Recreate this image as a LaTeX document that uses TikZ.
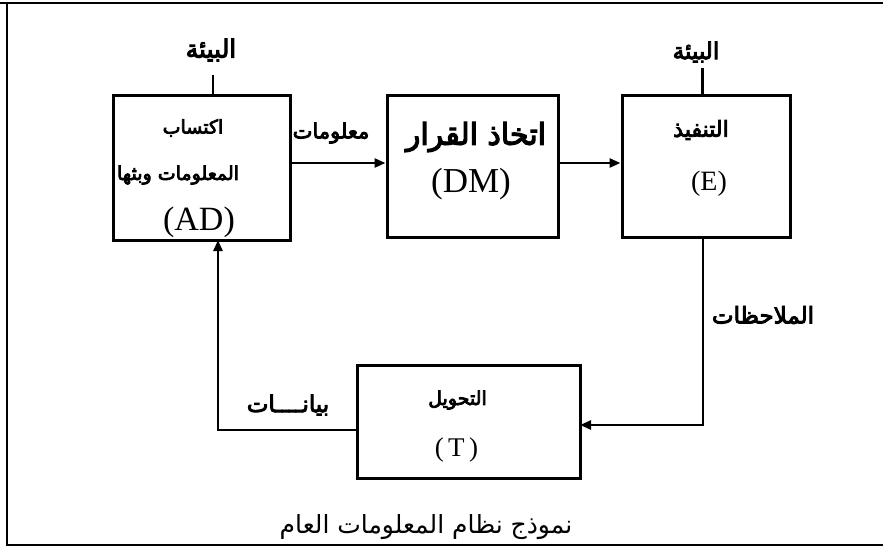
\documentclass[tikz,border=0pt]{standalone}
\usepackage{fontspec}
\setmainfont{Liberation Serif}
\newfontfamily\arabicfont[Script=Arabic]{DejaVu Sans}
\newfontfamily\arabicthick[Script=Arabic,FakeBold=4]{DejaVu Sans}
\TeXXeTstate=1
\usetikzlibrary{arrows.meta}
\newcommand{\arsz}[1]{\arabicthick\fontsize{#1}{#1}\selectfont}
\begin{document}
\begin{tikzpicture}[x=1pt,y=-1pt,
  box/.style={draw,line width=3pt,inner sep=0pt},
  txt/.style={inner sep=0pt},
  conn/.style={line width=2.5pt},
  arr/.style={conn,-{Triangle[length=11pt,width=9pt]}}]
\useasboundingbox (0,0) rectangle (883,554);
% frame
\draw[line width=2.5pt] (883,3) -- (0,3);
\draw[line width=2.5pt] (7,3) -- (7,545) -- (883,545);
% boxes
\node[box,minimum width=177pt,minimum height=145pt] (ad) at (201.5,167.5) {};
\node[box,minimum width=171pt,minimum height=142pt] (dm) at (472.5,166) {};
\node[box,minimum width=168pt,minimum height=142pt] (e) at (706,166) {};
\node[box,minimum width=223pt,minimum height=113pt] (t) at (468.5,421.5) {};
% box texts
\node[txt,font=\arsz{19}] (ad1) at (193,128) {\beginR اكتساب\endR};
\node[txt,font=\arsz{19}] (ad2) at (178,175) {\beginR المعلومات وبثها\endR};
\node[txt,font=\fontsize{34}{36}\selectfont] (ad3) at (199,222) {(AD)};
\node[txt,font=\arsz{30}] (dm1) at (476,137) {\beginR اتخاذ القرار\endR};
\node[txt,font=\fontsize{35}{38}\selectfont] (dm2) at (471,184) {(DM)};
\node[txt,font=\arsz{22}] (e1) at (701,130) {\beginR التنفيذ\endR};
\node[txt,font=\fontsize{28}{30}\selectfont] (e2) at (709,184) {(E)};
\node[txt,font=\arsz{19}] (t1) at (457.5,400) {\beginR التحويل\endR};
\node[txt,font=\fontsize{27}{30}\selectfont] (t2) at (456.5,450) {(\,T\,)};
% environment lines
\coordinate (env1) at (213,75);
\coordinate (env2) at (702.5,68);
\draw[conn] (env1) -- (env1 |- ad.north);
\draw[conn] (env2) -- (env2 |- e.north);
\node[txt,font=\arsz{25}] (envl1) at (211,50) {\beginR البيئة\endR};
\node[txt,font=\arsz{23}] (envl2) at (696,52) {\beginR البيئة\endR};
% forward arrows
\coordinate (adout) at (290,163);
\coordinate (dmout) at (558,163);
\draw[arr] (adout) -- (adout -| dm.west);
\draw[arr] (dmout) -- (dmout -| e.west);
\node[txt,font=\arsz{21}] (info) at (331,133) {\beginR معلومات\endR};
% feedback
\coordinate (eout) at (703,237);
\coordinate (tin) at (580,425);
\draw[arr] (eout) |- (tin);
\coordinate (tout) at (357,430);
\coordinate (adin) at (218,240);
\draw[arr] (tout) -| (adin);
\node[txt,font=\arsz{23}] (obs) at (763,315) {\beginR الملاحظات\endR};
\node[txt,font=\arsz{23}] (data) at (288,405) {\beginR بيانــــات\endR};
% caption
\node[txt,font=\arabicfont\fontsize{25}{28}\selectfont] (cap) at (426,527) {\beginR نموذج نظام المعلومات العام\endR};
\end{tikzpicture}
\end{document}
